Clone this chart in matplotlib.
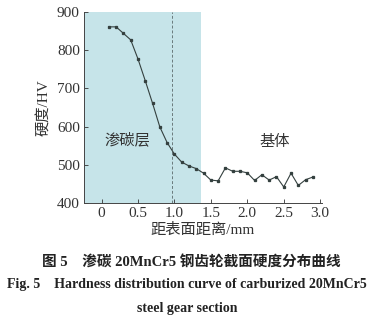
import numpy as np
import matplotlib.pyplot as plt

plt.rcParams['font.family'] = ['Liberation Serif', 'Noto Sans CJK SC']

# hardness profile across the carburized gear section
depth = [0.1, 0.2, 0.3, 0.4, 0.5, 0.6, 0.7, 0.8, 0.9, 1.0, 1.1, 1.2, 1.3, 1.4,
         1.5, 1.6, 1.7, 1.8, 1.9, 2.0, 2.1, 2.2, 2.3, 2.4, 2.5, 2.6, 2.7, 2.8, 2.9]
hardness = [861, 861, 844, 827, 777, 720, 661, 599, 558, 528, 507, 497, 490, 478,
            460, 458, 492, 483, 483, 479, 459, 474, 460, 469, 442, 478, 446, 461, 468]
case_end = 1.36
dash_x = 0.97
xticks = [0, 0.5, 1.0, 1.5, 2.0, 2.5, 3.0]
xticklabels = ['0', '0.5', '1.0', '1.5', '2.0', '2.5', '3.0']
yticks = [400, 500, 600, 700, 800, 900]

fig = plt.figure(figsize=(3.82, 3.23), dpi=100)
ax = fig.add_axes([0.22, 0.3715, 0.622, 0.5915])
xmin, xmax = -0.24, 3.02
ax.set_xlim(xmin, xmax)
ax.set_ylim(400, 900)

ax.axvspan(xmin, case_end, color='#c6e4e9', zorder=0, lw=0)
ax.axvline(dash_x, color='#6a7a7c', ls=(0, (3, 2)), lw=0.7, zorder=1)
ax.plot(depth, hardness, color='#34403f', lw=0.8, marker='s', ms=1.4, zorder=3)

ax.text(0.35, 565, '渗碳层', fontsize=11, ha='center', va='center', color='#333333')
ax.text(2.37, 560, '基体', fontsize=11, ha='center', va='center', color='#333333')

ax.set_xticks(xticks)
ax.set_xticklabels(xticklabels)
ax.set_yticks(yticks)
ax.tick_params(direction='in', length=3, width=0.6, labelsize=11, colors='#333333', pad=3)
for s in ['top', 'right']:
    ax.spines[s].set_visible(False)
for s in ['left', 'bottom']:
    ax.spines[s].set_linewidth(0.7)
    ax.spines[s].set_color('#444444')

ax.set_xlabel('距表面距离/mm', fontsize=11, color='#333333', labelpad=2)
ax.set_ylabel('硬度/HV', fontsize=11, color='#333333', labelpad=4)

fig.text(0.5, 0.19, '图 5　渗碳 20MnCr5 钢齿轮截面硬度分布曲线', fontsize=10.5,
         fontweight='bold', ha='center', va='center', color='#222222')
fig.text(0.49, 0.118, 'Fig. 5    Hardness distribution curve of carburized 20MnCr5',
         fontsize=10, fontweight='bold', ha='center', va='center', color='#222222')
fig.text(0.49, 0.046, 'steel gear section', fontsize=10, fontweight='bold',
         ha='center', va='center', color='#222222')

fig.savefig('out.png', dpi=100, facecolor='white')
